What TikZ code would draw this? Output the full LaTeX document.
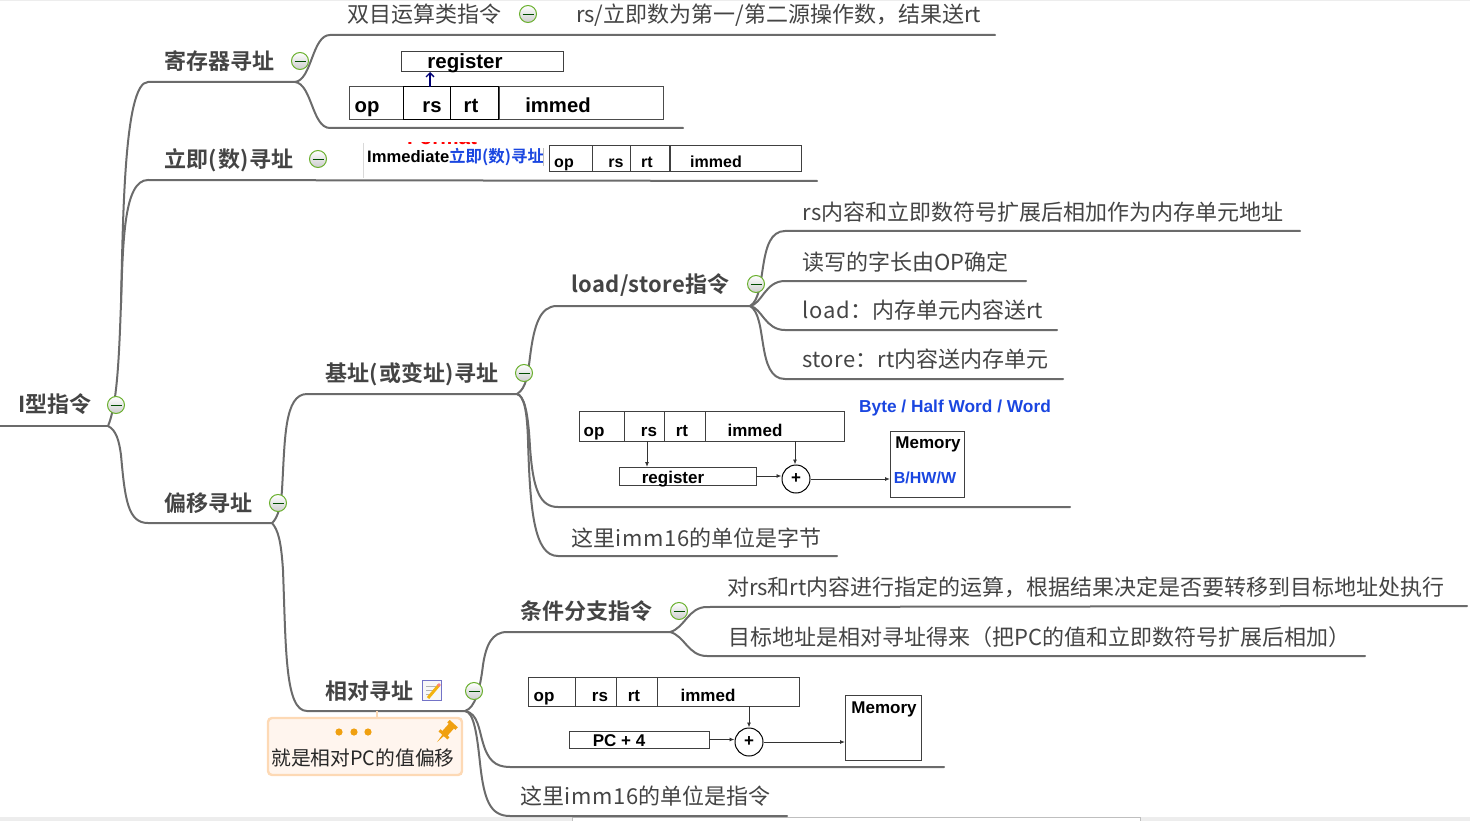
\documentclass[tikz,border=0pt]{standalone}
\usepackage{fontspec}
\setmainfont{Noto Sans CJK SC}[BoldFont={Noto Sans CJK SC Bold}]
\newfontfamily\arialfont{Liberation Sans}
\usetikzlibrary{arrows.meta,shapes.geometric}
\definecolor{branchgray}{HTML}{6B6B6B}
\definecolor{inkgray}{HTML}{444444}
\definecolor{linkblue}{HTML}{1A46E0}
\definecolor{foldgreen}{HTML}{6AB02E}
\definecolor{notefill}{HTML}{FFF5EE}
\definecolor{noteline}{HTML}{FDD9B5}
\definecolor{noteorange}{HTML}{F0A010}
\newcommand{\fs}[1]{\fontsize{#1}{#1}\selectfont}
\newcommand{\lat}[2][4]{{\addfontfeature{LetterSpace=#1}#2}}
\tikzset{
branch/.style={draw=branchgray,line width=2pt,line cap=round},
topic/.style={anchor=base west,inner sep=0pt,font=\fs{22}\bfseries,text=inkgray},
leaf/.style={anchor=base west,inner sep=0pt,font=\fs{22},text=inkgray},
fold/.style={circle,draw=foldgreen,line width=1pt,minimum size=17pt,inner sep=0pt,top color=white,bottom color=black!20,
  path picture={\draw[green!30!black,line width=.9pt] ([xshift=-5.5pt]path picture bounding box.center) -- ([xshift=5.5pt]path picture bounding box.center);}},
fieldbox/.style={draw=black!75,line width=1pt,inner sep=0pt,outer sep=0pt},
fieldtext/.style={anchor=base,inner sep=0pt,font=\arialfont\bfseries\fs{#1},text=black},
fieldtext/.default=17,
wire/.style={draw=black!80,line width=.9pt,-{Latex[length=5pt,width=4pt]}},
adder/.style={circle,draw=black,line width=1pt,minimum size=28pt,inner sep=0pt,font=\arialfont\bfseries\fs{17}},
}
\begin{document}
\begin{tikzpicture}[x=1pt,y=-1pt]
\useasboundingbox (0,0) rectangle (1470,821);
\fill[black!7] (0,0) rectangle (1470,1);
\fill[black!7] (0,817) rectangle (572,821);
\fill[black!7] (1140,817) rectangle (1470,821);
\draw[black!25] (572,821) -- (572,817) -- (1140,817) -- (1140,821);
% branch points
\coordinate (root) at (108,426);
\coordinate (rootend) at (0,426);
\coordinate (trunk) at (121,303);
\coordinate (reg) at (295,82);
\coordinate (regstart) at (148,82);
\coordinate (imm) at (148,180);
\coordinate (immend) at (817,181);
\coordinate (off) at (272,523);
\coordinate (offstart) at (148,523);
\coordinate (base) at (517,394);
\coordinate (basestart) at (307,394);
\coordinate (rel) at (465,711);
\coordinate (relstart) at (307,711);
\coordinate (ls) at (750,306);
\coordinate (lsstart) at (557,306);
\coordinate (cond) at (670,632);
\coordinate (condstart) at (507,632);
% main branches
\draw[branch] (rootend) -- (root);
\draw[branch] (root) .. controls (117,405) and (119,360) .. (trunk) .. controls (123,220) and (124,82) .. (regstart) -- (reg);
\draw[branch] (trunk) .. controls (123,240) and (124,180) .. (imm) -- (immend);
\draw[branch] (root) .. controls (116,430) and (119,440) .. (121,455) .. controls (125,500) and (128,523) .. (offstart) -- (off);
\coordinate (a1) at (330,35); \coordinate (a2) at (995,35);
\draw[branch] (reg) .. controls (312,80) and (312,35) .. (a1) -- (a2);
\coordinate (b1) at (330,128); \coordinate (b2) at (683,128);
\draw[branch] (reg) .. controls (312,84) and (312,128) .. (b1) -- (b2);
\draw[branch] (off) .. controls (278,518) and (281,505) .. (282,490) .. controls (285,440) and (284,394) .. (basestart) -- (base);
\draw[branch] (off) .. controls (278,530) and (281,540) .. (283,570) .. controls (286,650) and (285,711) .. (relstart) -- (rel);
% base branches
\draw[branch] (base) .. controls (527,388) and (528,372) .. (530,357) .. controls (534,325) and (540,306) .. (lsstart) -- (ls);
\coordinate (c1) at (558,507); \coordinate (c2) at (1070,507);
\draw[branch] (base) .. controls (524,396) and (528,410) .. (530,447) .. controls (533,490) and (540,507) .. (c1) -- (c2);
\coordinate (d1) at (558,556); \coordinate (d2) at (837,556);
\draw[branch] (base) .. controls (524,396) and (527,410) .. (528,440) .. controls (530,510) and (534,556) .. (d1) -- (d2);
% load/store leaves
\coordinate (e1) at (785,231); \coordinate (e2) at (1300,231);
\draw[branch] (ls) .. controls (768,296) and (756,231) .. (e1) -- (e2);
\coordinate (f1) at (785,281); \coordinate (f2) at (1026,281);
\draw[branch] (ls) .. controls (762,304) and (765,281) .. (f1) -- (f2);
\coordinate (g1) at (785,330); \coordinate (g2) at (1057,330);
\draw[branch] (ls) .. controls (762,308) and (765,330) .. (g1) -- (g2);
\coordinate (h1) at (785,379); \coordinate (h2) at (1063,379);
\draw[branch] (ls) .. controls (768,316) and (756,379) .. (h1) -- (h2);
% relative branches
\draw[branch] (rel) .. controls (475,708) and (480,690) .. (483,665) .. controls (486,645) and (492,632) .. (condstart) -- (cond);
\coordinate (i1) at (510,767); \coordinate (i2) at (944,767);
\draw[branch] (rel) .. controls (478,713) and (479,730) .. (483,743) .. controls (488,760) and (495,767) .. (i1) -- (i2);
\coordinate (j1) at (510,816); \coordinate (j2) at (787,816);
\draw[branch] (rel) .. controls (474,712) and (477,735) .. (480,763) .. controls (484,800) and (490,816) .. (j1) -- (j2);
\coordinate (k1) at (707,607); \coordinate (k2) at (1467,606);
\draw[branch] (cond) .. controls (685,628) and (688,607) .. (k1) -- (k2);
\coordinate (l1) at (707,656); \coordinate (l2) at (1365,656);
\draw[branch] (cond) .. controls (685,636) and (688,656) .. (l1) -- (l2);
% topics and leaves
\node[topic] (itype) at (18,412.5) {I型指令};
\node[topic] (regtopic) at (164,70) {寄存器寻址};
\node[topic] (immtopic) at (164,168) {立即(\kern1.5pt数)\kern1.5pt寻址};
\node[topic] (offtopic) at (164,511.5) {偏移寻址};
\node[topic] (basetopic) at (325,381.5) {基址(\kern1.5pt或变址)\kern1.5pt寻址};
\node[topic] (reltopic) at (325,699) {相对寻址};
\node[topic] (lstopic) at (571,292.5) {\lat[1.4]{load/store}指令};
\node[topic] (condtopic) at (520,619) {条件分支指令};
\node[leaf] (dual) at (347,23) {双目运算类指令};
\node[leaf] (dualnote) at (576,23) {rs/立即数为第一/第二源操作数，结果送rt};
\node[leaf] (lsa) at (802,221) {\lat{rs}内容和立即数符号扩展后相加作为内存单元地址};
\node[leaf] (lsb) at (802,270) {读写的字长由OP确定};
\node[leaf] (lsc) at (802,318) {\lat{load}：内存单元内容送rt};
\node[leaf] (lsd) at (802,367.5) {\lat[2]{store}：rt内容送内存单元};
\node[leaf] (unita) at (571,546) {这里\lat{imm16}的单位是字节};
\node[leaf] (conda) at (727,595) {对rs和rt内容进行指定的运算，根据结果决定是否要转移到目标地址处执行};
\node[leaf] (condb) at (728,645) {目标地址是相对寻址得来（把PC的值和立即数符号扩展后相加）};
\node[leaf] (unitb) at (520,804) {这里\lat{imm16}的单位是指令};
% fold buttons
\node[fold] (f0) at (116,405) {};
\node[fold] (f1b) at (300,61) {};
\node[fold] (f2b) at (528,14) {};
\node[fold] (f3b) at (318,159) {};
\node[fold] (f4b) at (278,503) {};
\node[fold] (f5b) at (524,373) {};
\node[fold] (f6b) at (756,284) {};
\node[fold] (f7b) at (679,611) {};
\node[fold] (f8b) at (474,691) {};
% memo icon
\draw[black!40!blue!55,fill=black!3,line width=1pt] (422.5,680.5) rectangle (441.5,700);
\draw[black!30,line width=.7pt] (426,686) -- (436,686) (426,690) -- (433,690) (426,694) -- (431,694);
\draw[noteorange!80!yellow,line width=3pt] (428,698) -- (439,685);
\fill[red!50!white] (439,685) circle (1.8pt);
% note
\coordinate (notetop) at (377,711);
\node[draw=noteline,fill=notefill,line width=2.4pt,rounded corners=4pt,minimum width=194pt,minimum height=57pt,inner sep=0pt] (note) at (365,746.5) {};
\draw[noteline,line width=1.6pt] (notetop) -- (note.north -| notetop);
\foreach \x in {339,354,368}
  \fill[noteorange] (\x,732) circle (3.6pt);
\fill[noteorange,rotate around={-42:(447,731)}] (443.5,724) rectangle (450.5,734) (441,734) -- (453,734) -- (453,737) -- (441,737) -- cycle (446,737) -- (448,737) -- (447,746) -- cycle (441.5,721) rectangle (452.5,724.5);
\node[inner sep=0pt,font=\fs{19.8},text=black!85] (notetext) at (363,758) {就是相对PC的值偏移};
% register format
\node[fieldbox,minimum width=162pt,minimum height=20pt] (topreg) at (482,62) {};
\node[fieldtext=20.5] (topregt) at (465,68.5) {register};
\foreach \nm/\a/\b/\tx/\t/\c in {op/349/403/367/op/black!70,im/499/663/558/immed/black!70,rs/403/450/432/rs/black,rt/450/498/471/rt/black}{
  \node[fieldbox,draw=\c,minimum width={(\b-\a)*1pt},minimum height=33pt] (top\nm) at ({(\a+\b)/2},103.5) {};
  \node[fieldtext=20.3] at (\tx,113) {\t};
}
\coordinate (toparrow) at (430,87);
\draw[draw=blue!45!black,line width=1.3pt,-{Straight Barb[length=4pt,width=8pt]}] (toparrow) -- (toparrow |- topreg.south);
% immediate format
\draw[black!15] (363,143) -- (363,178);
\begin{scope}
\clip (400,143) rectangle (482,145);
\node[fieldtext=20.6,text=red] (fmt) at (442,145) {Format};
\end{scope}
\node[fieldtext=16.6,anchor=base west] (immname) at (367,163) {Immediate};
\node[inner sep=0pt,anchor=base west,font=\fs{16.5}\bfseries,text=linkblue] (immblue) at (449,163) {立即(数)寻址};
\draw[black!25] (543.5,148) -- (543.5,166);
\foreach \nm/\a/\b/\tx/\t in {op/549/592/564/op,rs/592/630/616/rs,rt/630/669/647/rt,im/670/801/716/immed}{
  \node[fieldbox,minimum width={(\b-\a)*1pt},minimum height=26pt] (imm\nm) at ({(\a+\b)/2},159) {};
  \node[fieldtext=16] at (\tx,168) {\t};
}
% base format
\foreach \nm/\a/\b/\tx/\t in {op/579/624/594/op,rs/624/664/649/rs,rt/664/705/682/rt,im/705/844/755/immed}{
  \node[fieldbox,minimum width={(\b-\a)*1pt},minimum height=30pt] (bs\nm) at ({(\a+\b)/2},426) {};
  \node[fieldtext] at (\tx,436) {\t};
}
\node[fieldbox,minimum width=137pt,minimum height=18pt] (bsreg) at (687.5,476) {};
\node[fieldtext] (bsregt) at (673,483) {register};
\node[adder] (bsadd) at (796,479) {+};
\node[fieldbox,minimum width=74pt,minimum height=66pt] (bsmem) at (927,464) {};
\node[fieldtext] (bsmemt) at (928,448) {Memory};
\node[fieldtext=16,text=linkblue] (bshw) at (925,483) {B/HW/W};
\node[fieldtext=17.3,text=linkblue] (bsbyte) at (955,412) {Byte / Half Word / Word};
\coordinate (bsrs) at (647,441);
\coordinate (bsim) at (795,441);
\draw[wire] (bsrs) -- (bsrs |- bsreg.north);
\draw[wire] (bsim) -- (bsim |- bsadd.north);
\draw[wire] (bsreg.east) -- (bsreg.east -| bsadd.west);
\draw[wire] (bsadd.east) -- (bsadd.east -| bsmem.west);
% relative format
\foreach \nm/\a/\b/\tx/\t in {op/528/575/544/op,rs/575/616/600/rs,rt/616/657/634/rt,im/657/799/708/immed}{
  \node[fieldbox,minimum width={(\b-\a)*1pt},minimum height=29pt] (rl\nm) at ({(\a+\b)/2},691.5) {};
  \node[fieldtext] at (\tx,701) {\t};
}
\node[fieldbox,minimum width=140pt,minimum height=17pt] (rlpc) at (639,739.5) {};
\node[fieldtext] (rlpct) at (619,746) {PC + 4};
\node[adder] (rladd) at (749,742) {+};
\node[fieldbox,minimum width=76pt,minimum height=65pt] (rlmem) at (883,727.5) {};
\node[fieldtext] (rlmemt) at (884,713) {Memory};
\coordinate (rlim) at (749,706);
\draw[wire] (rlim) -- (rladd.north);
\draw[wire] (rlpc.east) -- (rlpc.east -| rladd.west);
\draw[wire] (rladd.east) -- (rladd.east -| rlmem.west);
\end{tikzpicture}
\end{document}
